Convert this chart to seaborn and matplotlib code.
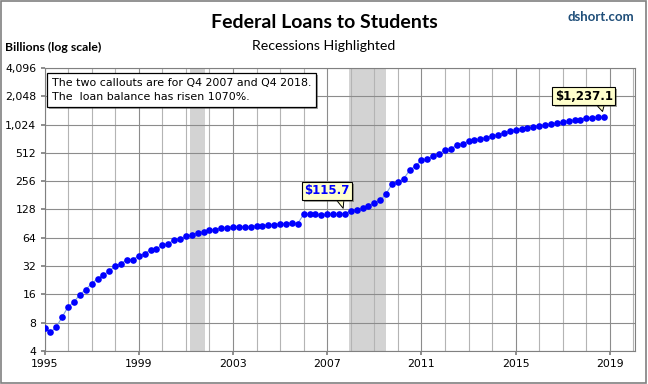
import numpy as np
import pandas as pd
import matplotlib
matplotlib.use("Agg")
import matplotlib.pyplot as plt
import matplotlib.patheffects as pe
import seaborn as sns

# ---- data (quarterly, Q1 1995 .. Q4 2018), billions of dollars ----
start_year = 1995
loans = [
    7.1, 6.3, 7.2, 9.2, 11.8, 13.3, 15.9, 18.0,
    20.8, 23.5, 25.9, 28.2, 32.4, 34.0, 37.5, 37.5,
    41.3, 43.4, 47.9, 49.1, 53.2, 55.5, 60.2, 61.7,
    66.4, 68.0, 72.6, 74.4, 78.1, 78.1, 82.0, 82.0,
    84.1, 84.1, 84.0, 83.5, 86.2, 86.2, 88.3, 88.3,
    90.5, 90.5, 92.7, 90.5, 113.8, 113.8, 113.8, 111.0,
    113.8, 113.8, 115.0, 115.7, 123.5, 125.5, 132.6, 138.0,
    151.0, 160.0, 188.0, 237.0, 251.0, 272.0, 334.0, 372.0,
    427.0, 437.0, 474.0, 502.0, 545.0, 567.0, 616.0, 642.0,
    680.0, 696.0, 724.0, 743.0, 781.0, 799.0, 839.0, 866.0,
    903.0, 926.0, 950.0, 965.0, 995.0, 1020.0, 1045.0, 1065.0,
    1083.0, 1120.0, 1139.0, 1157.0, 1216.0, 1216.0, 1235.0, 1237.1,
]
recessions = [(2001.17, 2001.83), (2007.92, 2009.5)]
x_ticks = [1995, 1999, 2003, 2007, 2011, 2015, 2019]
y_ticks = [4, 8, 16, 32, 64, 128, 256, 512, 1024, 2048, 4096]
y_tick_labels = ["4", "8", "16", "32", "64", "128", "256", "512", "1,024", "2,048", "4,096"]
callouts = [(2007.75, 115.7, "$115.7", "#0000ff"), (2018.75, 1237.1, "$1,237.1", "black")]
note = "The two callouts are for Q4 2007 and Q4 2018.\nThe  loan balance has risen 1070%."

df = pd.DataFrame({"date": start_year + np.arange(len(loans)) / 4.0, "value": loans})

sns.set_theme(style="white")
plt.rcParams["font.family"] = ["DejaVu Sans"]
plt.rcParams["text.color"] = "black"

fig = plt.figure(figsize=(6.48, 3.84), dpi=100)
ax = fig.add_axes([0.0687, 0.086, 0.9113, 0.737])

# recession shading (below the grid lines)
for a, b in recessions:
    ax.axvspan(a, b, color="#d3d3d3", zorder=0.1, lw=0)

sns.lineplot(data=df, x="date", y="value", ax=ax, color="#7fa3d9", linewidth=0.8,
             marker="o", markersize=4.8, markerfacecolor="#0000ff",
             markeredgecolor="#0000ff", markeredgewidth=0, zorder=4)

ax.set_yscale("log", base=2)
ax.set_ylim(4, 4096)
ax.set_xlim(1995, 2020.07)
ax.set_yticks(y_ticks)
ax.set_yticklabels(y_tick_labels)
ax.minorticks_off()
ax.set_xticks(x_ticks)
ax.set_xticklabels([str(t) for t in x_ticks])
ax.set_xticks(range(1995, 2021), minor=True)
ax.set_axisbelow(True)
ax.grid(True, which="major", axis="both", color="#8c8c8c", lw=0.8, zorder=0.5)
ax.grid(True, which="minor", axis="x", color="#b4b4b4", lw=0.8, zorder=0.5)
ax.tick_params(axis="both", which="major", labelsize=7.8, length=3, color="#808080",
               pad=3, bottom=True, left=True, labelcolor="black")
ax.tick_params(axis="x", which="minor", length=0)
ax.set_xlabel("")
ax.set_ylabel("")
for s in ax.spines.values():
    s.set_color("#808080")
    s.set_linewidth(0.8)

# callouts
shadow = [pe.SimplePatchShadow(offset=(1.5, -1.5), alpha=0.5), pe.Normal()]
offsets = [(-13.0, 16.5), (-14.5, 15.0)]
for (xv, yv, lab, col), off in zip(callouts, offsets):
    an = ax.annotate(lab, xy=(xv, yv), xytext=off, textcoords="offset points",
                     ha="center", va="center", fontsize=8.5, fontweight="bold", color=col,
                     bbox=dict(boxstyle="square,pad=0.2", fc="#ffffcc", ec="black", lw=0.8),
                     arrowprops=dict(arrowstyle="wedge,tail_width=0.6,shrink_factor=0.5",
                                     fc="#ffffcc", ec="black", lw=0.7,
                                     relpos=(0.78, 0.05), shrinkA=0, shrinkB=4),
                     zorder=6)
    an.get_bbox_patch().set_path_effects(shadow)

t = ax.text(0.012, 0.965, note, transform=ax.transAxes, ha="left", va="top",
            fontsize=7.9, linespacing=1.55, zorder=6,
            bbox=dict(boxstyle="square,pad=0.45", fc="white", ec="black", lw=0.9))
t.get_bbox_patch().set_path_effects(shadow)

# titles
fig.text(0.5, 1 - 22 / 384, "Federal Loans to Students", ha="center", va="center",
         fontsize=14, fontweight="bold", color="black", family=["Lato", "DejaVu Sans"])
fig.text(0.5, 1 - 46 / 384, "Recessions Highlighted", ha="center", va="center",
         fontsize=10.2, color="black", family=["Lato", "DejaVu Sans"])
fig.text(5 / 648, 1 - 47 / 384, "Billions (log scale)", ha="left", va="center",
         fontsize=8.8, fontweight="bold", color="black", family=["Lato", "DejaVu Sans"])
fig.text(634 / 648, 1 - 17 / 384, "dshort.com", ha="right", va="center",
         fontsize=9.5, fontweight="bold", color="#1f4e79", family=["Lato", "DejaVu Sans"])

# outer border
fig.patches.append(plt.Rectangle((0.002, 0.003), 0.995, 0.994, transform=fig.transFigure,
                                 fill=False, ec="#808080", lw=1.2))

fig.savefig("out.png", dpi=100, facecolor="white")
